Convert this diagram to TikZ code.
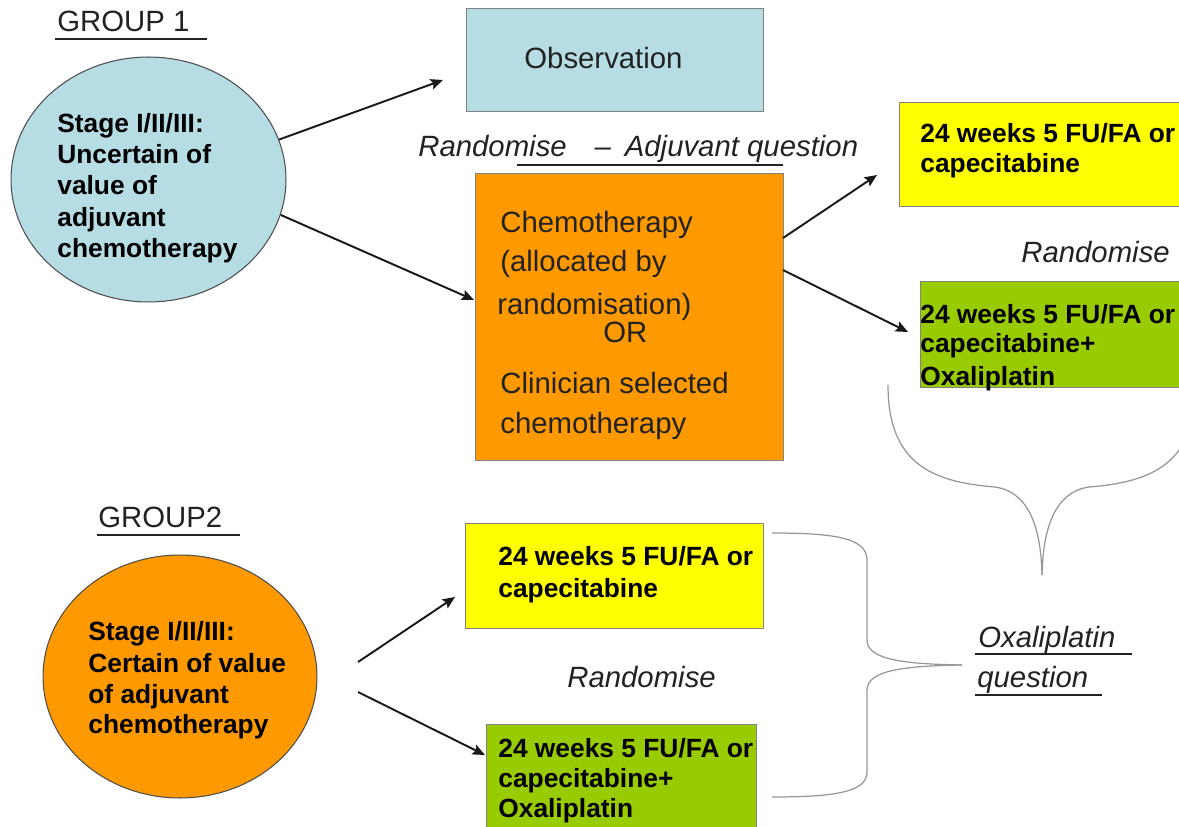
\documentclass[tikz,border=0pt]{standalone}
\usepackage{fontspec}
\setmainfont{Liberation Sans}
\usetikzlibrary{arrows.meta,shapes.geometric}
\definecolor{lblue}{RGB}{183,221,228}
\definecolor{orng}{RGB}{255,153,0}
\definecolor{ylw}{RGB}{255,255,0}
\definecolor{grn}{RGB}{153,204,0}
\definecolor{txt}{RGB}{34,34,34}
\definecolor{edgec}{RGB}{130,130,130}
\definecolor{bracec}{RGB}{150,150,150}
\begin{document}
\begin{tikzpicture}[x=0.02cm,y=-0.02cm,
  reg/.style={font=\fontsize{16.7}{20}\selectfont, inner sep=0pt, anchor=base west, text=txt},
  bld/.style={font=\fontsize{15}{18}\selectfont\bfseries, inner sep=0pt, anchor=base west, text=black},
  itl/.style={font=\fontsize{16.7}{20}\selectfont\itshape, inner sep=0pt, anchor=base west, text=txt},
  boxs/.style={draw=edgec, line width=0.6pt, inner sep=0pt, anchor=north west},
  ell/.style={ellipse, draw=edgec!60!black, line width=0.6pt, inner sep=0pt},
  arr/.style={-{Stealth[length=7pt,width=6pt,inset=1.2pt]}, line width=1.1pt, black!90},
  uline/.style={line width=1.3pt, txt},
  bracep/.style={draw=bracec, line width=0.7pt}
]
\useasboundingbox (0,0) rectangle (1179,827);
\clip (0,0) rectangle (1179,827);

% shapes
\node[ell, fill=lblue, minimum width=5.5cm, minimum height=4.9cm] (e1) at (148.5,179.5) {};
\node[ell, fill=orng, minimum width=5.48cm, minimum height=4.86cm] (e2) at (180,676.5) {};
\node[boxs, fill=lblue, minimum width=5.94cm, minimum height=2.06cm] (obs) at (466,8) {};
\node[boxs, fill=orng, minimum width=6.16cm, minimum height=5.74cm] (orb) at (475,173) {};
\node[boxs, fill=ylw, minimum width=6.0cm, minimum height=2.08cm] (ry) at (899,102) {};
\node[boxs, fill=grn, minimum width=5.6cm, minimum height=2.12cm] (rg) at (920,281) {};
\node[boxs, fill=ylw, minimum width=5.96cm, minimum height=2.10cm] (by) at (465,523) {};
\node[boxs, fill=grn, minimum width=5.4cm, minimum height=2.4cm] (bg) at (486,724) {};

% texts
\node[reg] (g1) at (57,32) {GROUP 1};
\draw[uline] (55,39) -- (207,39);
\node[reg] (g2) at (98,527) {GROUP2};
\draw[uline] (97,535) -- (240,535);

\node[bld] (e1a) at (57,133) {Stage I/II/III:};
\node[bld] (e1b) at (57,164) {Uncertain of};
\node[bld] (e1c) at (57,195) {value of};
\node[bld] (e1d) at (57,227) {adjuvant};
\node[bld] (e1e) at (57,258) {chemotherapy};

\node[reg] (obst) at (524,69) {Observation};

\node[itl] (radj) at (418,157) {Randomise\hspace{15.9pt}–\hspace{7.9pt}Adjuvant question};
\draw[uline] (517,165) -- (783,165);

\node[reg] (o1) at (500,233) {Chemotherapy};
\node[reg] (o2) at (500,272) {(allocated by};
\node[reg] (o3) at (497,315) {randomisation)};
\node[reg] (o4) at (603,342) {OR};
\node[reg] (o5) at (500,393) {Clinician selected};
\node[reg] (o6) at (500,433) {chemotherapy};

\node[bld] (ry1) at (920,143) {24 weeks 5 FU/FA or};
\node[bld] (ry2) at (920,173) {capecitabine};
\node[itl] (rr) at (1021,263) {Randomise};
\node[bld] (rg1) at (920,323) {24 weeks 5 FU/FA or};
\node[bld] (rg2) at (920,353) {capecitabine+};
\node[bld] (rg3) at (920,385) {Oxaliplatin};

\node[bld] (e2a) at (88,640) {Stage I/II/III:};
\node[bld] (e2b) at (88,672) {Certain of value};
\node[bld] (e2c) at (88,703) {of adjuvant};
\node[bld] (e2d) at (88,733) {chemotherapy};

\node[bld] (by1) at (498,565) {24 weeks 5 FU/FA or};
\node[bld] (by2) at (498,597) {capecitabine};
\node[itl] (br) at (567,687) {Randomise};
\node[bld] (bg1) at (498,757) {24 weeks 5 FU/FA or};
\node[bld] (bg2) at (498,787) {capecitabine+};
\node[bld] (bg3) at (498,817) {Oxaliplatin};

\node[itl] (ox1) at (978,647) {Oxaliplatin};
\draw[uline] (975,654) -- (1132,654);
\node[itl] (ox2) at (977,687) {question};
\draw[uline] (975,695) -- (1102,695);

% arrows
\coordinate (t1) at (443,80);
\coordinate (t2) at (474,300);
\coordinate (s3) at (783,238);
\coordinate (t3) at (877,175);
\coordinate (s4) at (783,270);
\coordinate (t4) at (908,332);
\coordinate (s5) at (358,662);
\coordinate (t5) at (455,597);
\coordinate (s6) at (358,692);
\coordinate (t6) at (485,755);
\draw[arr] (e1.17) -- (t1);
\draw[arr] (e1.-15) -- (t2);
\draw[arr] (s3) -- (t3);
\draw[arr] (s4) -- (t4);
\draw[arr] (s5) -- (t5);
\draw[arr] (s6) -- (t6);

% braces
\draw[bracep] (888,385) .. controls (888,462) and (930,482) .. (995,487)
  .. controls (1030,492) and (1041,530) .. (1042,575);
\draw[bracep] (1196,385) .. controls (1196,462) and (1154,482) .. (1089,487)
  .. controls (1054,492) and (1043,530) .. (1042,575);
\draw[bracep] (772,533) .. controls (835,533) and (867,538) .. (867,560)
  -- (867,640) .. controls (867,660) and (905,664) .. (962,665);
\draw[bracep] (772,797) .. controls (835,797) and (867,792) .. (867,772)
  -- (867,690) .. controls (867,670) and (905,666) .. (962,665);
\end{tikzpicture}
\end{document}
